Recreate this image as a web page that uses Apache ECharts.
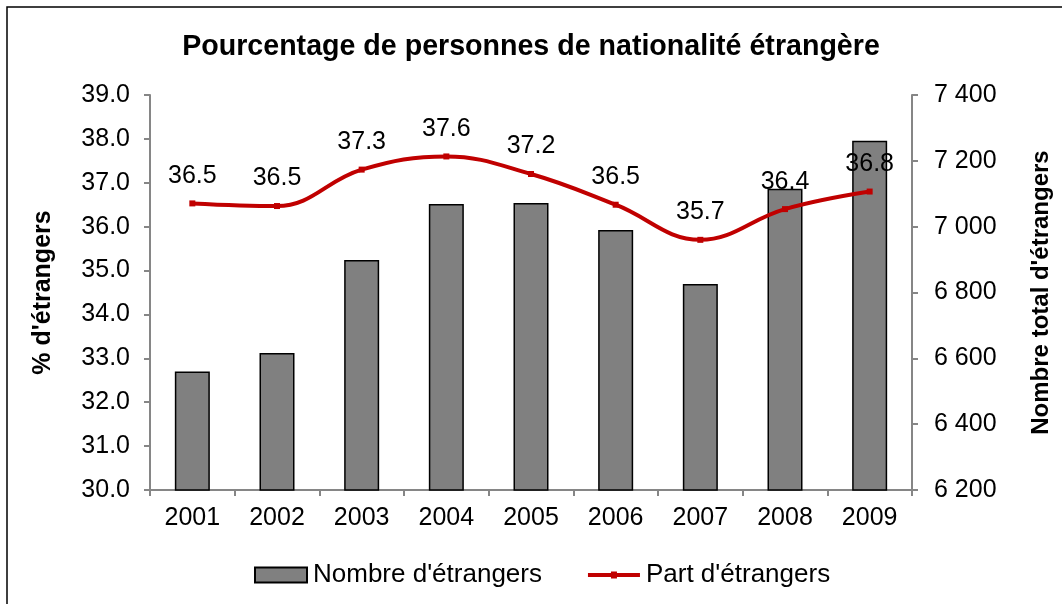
<!DOCTYPE html>
<html>
<head>
<meta charset="utf-8">
<script src="https://cdn.jsdelivr.net/npm/echarts@6/dist/echarts.min.js"></script>
<style>
  html, body { margin: 0; padding: 0; background: #fff; }
  #chart { width: 1062px; height: 604px; }
</style>
</head>
<body>
<div id="chart"></div>
<script>
// données
const annees = ['2001', '2002', '2003', '2004', '2005', '2006', '2007', '2008', '2009']
const nombreEtrangers = [6560, 6616, 6899, 7069, 7072, 6990, 6826, 7115, 7261]
const partEtrangers = [36.53, 36.47, 37.3, 37.6, 37.2, 36.5, 35.7, 36.4, 36.8]

const police = 'Liberation Sans, Arial, sans-serif'
const gris = '#868686'

const myChart = echarts.init(document.getElementById('chart'))

const option = {
  animation: false,
  textStyle: { fontFamily: police },
  graphic: [{
    type: 'rect',
    shape: { x: 7, y: 7, width: 1100, height: 700 },
    style: { fill: 'none', stroke: '#000', lineWidth: 1.5 },
    silent: true
  }],
  title: {
    text: 'Pourcentage de personnes de nationalité étrangère',
    left: 'center',
    top: 28,
    textStyle: { fontFamily: police, fontSize: 28.6, fontWeight: 'bold', color: '#000' }
  },
  legend: {
    bottom: 11,
    left: 249,
    itemGap: 46,
    itemWidth: 52,
    itemHeight: 15,
    textStyle: { fontFamily: police, fontSize: 26, color: '#000', padding: [0, 0, 0, 1] },
    data: [
      { name: "Nombre d'étrangers", icon: 'rect' },
      { name: "Part d'étrangers", icon: 'path://M0,5.5 L52,5.5 L52,9.5 L0,9.5 Z M23,4 L29,4 L29,11 L23,11 Z' }
    ]
  },
  grid: { left: 150, right: 150, top: 95, bottom: 114, outerBoundsMode: 'none' },
  xAxis: {
    type: 'category',
    data: annees,
    axisLine: { lineStyle: { color: gris, width: 2 } },
    axisTick: { show: true, length: 6, lineStyle: { color: gris, width: 2 } },
    axisLabel: { fontFamily: police, fontSize: 25, color: '#000', margin: 16 }
  },
  yAxis: [{
    type: 'value',
    min: 30,
    max: 39,
    interval: 1,
    name: "% d'étrangers",
    nameLocation: 'middle',
    nameGap: 94,
    nameTextStyle: { fontFamily: police, fontSize: 25, fontWeight: 'bold', color: '#000' },
    axisLine: { show: true, lineStyle: { color: gris, width: 2 } },
    axisTick: { show: true, length: 6, lineStyle: { color: gris, width: 2 } },
    axisLabel: { fontFamily: police, fontSize: 25, color: '#000', margin: 20, formatter: v => v.toFixed(1) },
    splitLine: { show: false }
  }, {
    type: 'value',
    min: 6200,
    max: 7400,
    interval: 200,
    position: 'right',
    name: "Nombre total d'étrangers",
    nameLocation: 'middle',
    nameGap: 117,
    nameRotate: 90,
    nameTextStyle: { fontFamily: police, fontSize: 24, fontWeight: 'bold', color: '#000' },
    axisLine: { show: true, lineStyle: { color: gris, width: 2 } },
    axisTick: { show: true, length: 6, lineStyle: { color: gris, width: 2 } },
    axisLabel: {
      fontFamily: police, fontSize: 25, color: '#000', margin: 22,
      formatter: v => String(v).replace(/\B(?=(\d{3})+(?!\d))/g, ' ')
    },
    splitLine: { show: false }
  }],
  series: [{
    name: "Nombre d'étrangers",
    type: 'bar',
    yAxisIndex: 1,
    data: nombreEtrangers,
    barWidth: 35,
    itemStyle: { color: '#808080', borderColor: '#000', borderWidth: 1.5 }
  }, {
    name: "Part d'étrangers",
    type: 'line',
    yAxisIndex: 0,
    data: partEtrangers,
    smooth: 0.4,
    symbol: 'rect',
    symbolSize: 6,
    lineStyle: { color: '#C00000', width: 4 },
    itemStyle: { color: '#C00000' },
    label: {
      show: true,
      position: 'top',
      distance: 12,
      fontFamily: police,
      fontSize: 25,
      color: '#000',
      formatter: p => p.value.toFixed(1)
    },
    z: 5
  }]
}

myChart.setOption(option)
</script>
</body>
</html>
